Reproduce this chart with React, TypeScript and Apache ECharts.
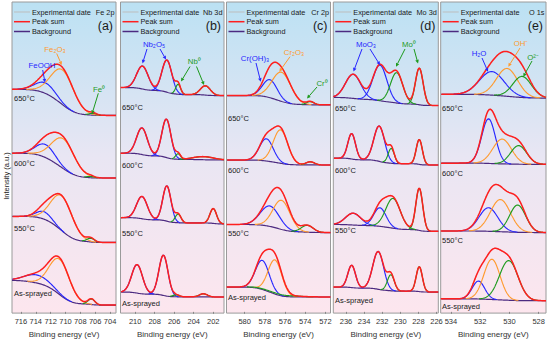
import React, { useEffect, useRef } from "react";
import * as echarts from "echarts";

// ---------- data ----------
const samples = ["650°C", "600°C", "550°C", "As-sprayed"];

// Peak fits: [species, centre (eV), height (a.u.), FWHM (eV)]
// Background levels: [high-BE level, low-BE level]
const feTicks = [716, 714, 712, 710, 708, 706, 704];
const feRange = [703.2, 717.2];
const feBg = [[3.59, 3.17], [2.56, 2.16], [1.54, 1.12], [0.51, 0.11]];
const fePeaks = [
  [["FeOOH", 712.7, 0.17, 3.2], ["Fe2O3", 710.4, 0.56, 3.6], ["Fe0", 706.3, 0.03, 1.2]],
  [["FeOOH", 712.7, 0.21, 3.0], ["Fe2O3", 710.3, 0.48, 3.6], ["Fe0", 706.6, 0.02, 1.2]],
  [["FeOOH", 712.9, 0.12, 2.4], ["Fe2O3", 710.5, 0.56, 3.4], ["Fe0", 706.6, 0.06, 1.2]],
  [["FeOOH", 713.8, 0.13, 4.0], ["Fe2O3", 710.8, 0.57, 3.2], ["Fe0", 706.5, 0.09, 1.1]],
];

const nbTicks = [210, 208, 206, 204, 202];
const nbRange = [200.9, 211.5];
const nbBg = [[3.62, 3.49], [2.56, 2.45], [1.52, 1.42], [0.32, 0.24]];
const nbPeaks = [
  [["Nb2O5", 209.25, 0.37, 1.4], ["Nb2O5", 206.75, 0.52, 1.2], ["Nb0", 205.6, 0.16, 0.6], ["Nb0", 202.8, 0.15, 1.2]],
  [["Nb2O5", 209.3, 0.43, 1.3], ["Nb2O5", 206.8, 0.62, 1.1], ["Nb0", 205.6, 0.09, 0.6], ["Nb0", 203.0, 0.05, 2.5]],
  [["Nb2O5", 209.3, 0.36, 1.3], ["Nb2O5", 206.75, 0.57, 1.0], ["Nb0", 205.6, 0.14, 0.7], ["Nb0", 202.0, 0.24, 0.8]],
  [["Nb2O5", 209.8, 0.46, 1.3], ["Nb2O5", 207.1, 0.65, 1.1], ["Nb0", 205.8, 0.03, 0.8], ["Nb0", 203.0, 0.05, 1.0]],
];

const crTicks = [580, 578, 576, 574, 572];
const crRange = [571.5, 581.8];
const crBg = [[3.49, 3.34], [2.45, 2.37], [1.41, 1.28], [0.40, 0.24]];
const crPeaks = [
  [["Cr(OH)3", 577.5, 0.29, 1.7], ["Cr2O3", 576.35, 0.47, 2.2], ["Cr0", 573.5, 0.05, 0.9]],
  [["Cr(OH)3", 577.85, 0.36, 1.6], ["Cr2O3", 576.45, 0.54, 1.7], ["Cr0", 573.5, 0.05, 1.0]],
  [["Cr(OH)3", 577.5, 0.33, 2.2], ["Cr2O3", 576.35, 0.47, 2.0], ["Cr0", 573.8, 0.11, 1.4]],
  [["Cr(OH)3", 578.25, 0.47, 1.6], ["Cr2O3", 577.0, 0.55, 1.6], ["Cr0", 576.5, 0.02, 4.0]],
];

const moTicks = [236, 234, 232, 230, 228, 226];
const moRange = [225.8, 237.4];
const moBg = [[3.46, 3.33], [2.48, 2.37], [1.41, 1.30], [0.40, 0.32]];
const moPeaks = [
  [["MoO3", 235.2, 0.39, 2.0], ["MoO3", 232.25, 0.575, 1.8], ["Mo0", 230.4, 0.49, 1.6], ["Mo0", 227.9, 0.59, 1.0]],
  [["MoO3", 235.37, 0.41, 1.0], ["MoO3", 232.33, 0.57, 1.4], ["Mo0", 231.0, 0.24, 0.8], ["Mo0", 227.9, 0.40, 0.8]],
  [["MoO3", 235.2, 0.19, 2.0], ["MoO3", 232.25, 0.30, 1.6], ["Mo0", 230.8, 0.48, 1.9], ["Mo0", 227.9, 0.68, 0.9]],
  [["MoO3", 235.37, 0.36, 1.0], ["MoO3", 232.44, 0.61, 1.4], ["Mo0", 231.04, 0.26, 0.9], ["Mo0", 227.9, 0.40, 0.8]],
];

const oTicks = [534, 532, 530, 528];
const oRange = [527.5, 534.7];
const oBg = [[3.51, 3.45], [2.40, 2.38], [1.305, 1.28], [0.21, 0.18]];
const oPeaks = [
  [["H2O", 531.2, 0.38, 2.0], ["OH-", 530.16, 0.45, 1.7], ["O2-", 529.13, 0.34, 1.5]],
  [["H2O", 531.43, 0.72, 1.1], ["OH-", 530.5, 0.40, 1.5], ["O2-", 529.37, 0.30, 1.3]],
  [["H2O", 531.43, 0.38, 1.5], ["OH-", 530.62, 0.52, 1.6], ["O2-", 529.44, 0.44, 1.3]],
  [["H2O", 532.12, 0.29, 1.0], ["OH-", 531.2, 0.65, 1.3], ["O2-", 530.05, 0.64, 1.5]],
];

// ---------- styles ----------
const FONT = '"Liberation Sans", Arial, Helvetica, sans-serif';
const RED = "#ff1f1f";
const BLUE = "#2626ff";
const ORANGE = "#ff9a2e";
const GREEN = "#1d9a1d";
const PURPLE = "#4c2a80";
const GREY = "#bdbdbd";
const speciesColor: Record<string, string> = {
  FeOOH: BLUE, Fe2O3: ORANGE, Fe0: GREEN,
  Nb2O5: BLUE, Nb0: GREEN,
  "Cr(OH)3": BLUE, Cr2O3: ORANGE, Cr0: GREEN,
  MoO3: BLUE, Mo0: GREEN,
  H2O: BLUE, "OH-": ORANGE, "O2-": GREEN,
};

const panels = [
  { ticks: feTicks, range: feRange, bg: feBg, peaks: fePeaks, element: "Fe 2p", tag: "(a)" },
  { ticks: nbTicks, range: nbRange, bg: nbBg, peaks: nbPeaks, element: "Nb 3d", tag: "(b)" },
  { ticks: crTicks, range: crRange, bg: crBg, peaks: crPeaks, element: "Cr 2p", tag: "(c)" },
  { ticks: moTicks, range: moRange, bg: moBg, peaks: moPeaks, element: "Mo 3d", tag: "(d)" },
  { ticks: oTicks, range: oRange, bg: oBg, peaks: oPeaks, element: "O 1s", tag: "(e)" },
];

// layout (pixels)
const frames = [
  { l: 12, r: 116 },
  { l: 120.5, r: 224 },
  { l: 226.5, r: 330.5 },
  { l: 333.3, r: 438.3 },
  { l: 440.7, r: 546 },
];
const TOP = 2;
const BOTTOM = 316;

const sampleLabelPos = [
  [[14, 98], [14, 163], [14, 228], [14, 293]],
  [[122, 107], [122, 165], [122, 233], [122, 303]],
  [[228, 118], [228, 170], [228, 233], [228, 297]],
  [[335, 108], [335, 170], [335, 230], [335, 300]],
  [[442, 108], [442, 173], [442, 240], [442, 306]],
];

const annotations = [
  { text: "FeOOH", color: BLUE, x: 42, y: 65.5, arrows: [[42.7, 70, 45, 82.5]] },
  { text: "Fe₂O₃", color: ORANGE, x: 55, y: 49, arrows: [[56.7, 53.5, 61.7, 65]] },
  { text: "Fe⁰", color: GREEN, x: 99, y: 89, arrows: [[98.3, 93.3, 92, 114]] },
  { text: "Nb₂O₅", color: BLUE, x: 154, y: 44, arrows: [[147, 49, 142.5, 63.5], [160, 49, 166, 59.5]] },
  { text: "Nb⁰", color: GREEN, x: 194.3, y: 61.7, arrows: [[190, 66.5, 181, 81.5], [196.5, 66.5, 204, 85]] },
  { text: "Cr(OH)₃", color: BLUE, x: 255, y: 58, arrows: [[256, 63, 260.7, 81.7]] },
  { text: "Cr₂O₃", color: ORANGE, x: 294, y: 52, arrows: [[290, 56.7, 279.3, 71.7]] },
  { text: "Cr⁰", color: GREEN, x: 322, y: 83, arrows: [[317, 87, 307, 98.5]] },
  { text: "MoO₃", color: BLUE, x: 366, y: 44, arrows: [[362, 49, 353.5, 71.5], [370, 49, 380, 65]] },
  { text: "Mo⁰", color: GREEN, x: 409, y: 44, arrows: [[405, 49, 396, 66.7], [414, 49, 418, 63.5]] },
  { text: "H₂O", color: BLUE, x: 479, y: 53, arrows: [[482, 58, 488, 71.7]] },
  { text: "OH⁻", color: ORANGE, x: 521, y: 43, arrows: [[520, 48, 508.3, 66.7]] },
  { text: "O²⁻", color: GREEN, x: 533, y: 57, arrows: [[532, 61, 523.3, 76.7]] },
];

// ---------- helpers ----------
function erf(v: number) {
  const s = Math.sign(v);
  const x = Math.abs(v);
  const t = 1 / (1 + 0.3275911 * x);
  const y = 1 - ((((1.061405429 * t - 1.453152027) * t + 1.421413741) * t - 0.284496736) * t + 0.254829592) * t * Math.exp(-x * x);
  return s * y;
}
const Phi = (z: number) => 0.5 * (1 + erf(z / Math.SQRT2));

function arrow(x1: number, y1: number, x2: number, y2: number, color: string) {
  const a = Math.atan2(y2 - y1, x2 - x1);
  const L = 3.6, W = 1.8;
  const bx = x2 - L * Math.cos(a), by = y2 - L * Math.sin(a);
  return [
    { type: "line", z: 100, silent: true, shape: { x1, y1, x2: bx, y2: by }, style: { stroke: color, lineWidth: 1 } },
    {
      type: "polygon", z: 100, silent: true,
      shape: { points: [[x2, y2], [bx + W * Math.sin(a), by - W * Math.cos(a)], [bx - W * Math.sin(a), by + W * Math.cos(a)]] },
      style: { fill: color },
    },
  ];
}

function txt(text: string, x: number, y: number, opts: any = {}) {
  return {
    type: "text", z: 100, silent: true, x, y, rotation: opts.rotation || 0,
    style: {
      text, fill: opts.color || "#1a1a1a", fontSize: opts.size || 7.5, fontFamily: FONT,
      align: opts.align || "left", verticalAlign: "middle",
    },
  };
}

function buildOption() {
  const grids: any[] = [];
  const xAxes: any[] = [];
  const yAxes: any[] = [];
  const series: any[] = [];
  const graphics: any[] = [];

  panels.forEach((p, pi) => {
    const f = frames[pi];
    grids.push({
      left: f.l, top: TOP, width: f.r - f.l, height: BOTTOM - TOP, show: true,
      backgroundColor: new echarts.graphic.LinearGradient(0, 0, 0, 1, [
        { offset: 0, color: "#bbe1f3" },
        { offset: 0.5, color: "#e9e6f3" },
        { offset: 1, color: "#fde6ee" },
      ]),
      borderColor: "#9a9a9a", borderWidth: 1,
    });
    xAxes.push({
      type: "value", gridIndex: pi, inverse: true, min: p.range[0], max: p.range[1],
      splitLine: { show: false }, axisLine: { show: false },
      axisTick: { show: true, length: 2, customValues: p.ticks, lineStyle: { color: "#888" } },
      axisLabel: { customValues: p.ticks, fontSize: 7.5, color: "#333", margin: 4, fontFamily: FONT },
      name: "Binding energy (eV)", nameLocation: "middle", nameGap: 14,
      nameTextStyle: { fontSize: 8, color: "#333", fontFamily: FONT },
    });
    yAxes.push({ type: "value", gridIndex: pi, min: -0.02, max: 5, show: false });

    const n = 320;
    const step = (p.range[1] - p.range[0]) / n;
    p.peaks.forEach((pk: any[], si: number) => {
      const [hi, lo] = p.bg[si];
      const comps = pk.map((q: any) => ({ sp: q[0], c: q[1], h: q[2], s: q[3] / 2.3548 }));
      const wsum = comps.reduce((a, q) => a + q.h * q.s, 0);
      const bgD: number[][] = [];
      const sumD: number[][] = [];
      const compD: any[][] = comps.map(() => []);
      for (let i = 0; i <= n; i++) {
        const x = p.range[0] + i * step;
        let frac = 0;
        comps.forEach((q) => { frac += q.h * q.s * Phi((x - q.c) / q.s); });
        const b = lo + (hi - lo) * frac / wsum;
        let tot = 0;
        comps.forEach((q, k) => {
          const g = q.h * Math.exp(-((x - q.c) ** 2) / (2 * q.s * q.s));
          tot += g;
          compD[k].push([x, g > 0.003 ? b + g : null]);
        });
        bgD.push([x, b]);
        sumD.push([x, b + tot]);
      }
      const common = { type: "line", xAxisIndex: pi, yAxisIndex: pi, showSymbol: false, symbol: "none", silent: true, animation: false };
      series.push({ ...common, name: "Background", z: 2, data: bgD, lineStyle: { color: PURPLE, width: 1.2 } });
      comps.forEach((q, k) => {
        series.push({ ...common, name: q.sp, z: 3, data: compD[k], connectNulls: false, lineStyle: { color: speciesColor[q.sp], width: 1.15 } });
      });
      series.push({ ...common, name: "Experimental date", z: 1, data: sumD, lineStyle: { color: GREY, width: 0.8 } });
      series.push({ ...common, name: "Peak sum", z: 4, data: sumD, lineStyle: { color: RED, width: 1.5 } });

      const [lx, ly] = sampleLabelPos[pi][si];
      graphics.push(txt(samples[si], lx, ly, { size: 7.5 }));
    });

    // legend
    const ly = [12, 21.7, 31.5];
    const lc = [GREY, RED, PURPLE];
    const lw = [1, 1.5, 1.5];
    const lt = ["Experimental date", "Peak sum", "Background"];
    ly.forEach((y, k) => {
      graphics.push({ type: "line", z: 100, silent: true, shape: { x1: f.l + 2, y1: y, x2: f.l + 18, y2: y }, style: { stroke: lc[k], lineWidth: lw[k] } });
      graphics.push(txt(lt[k], f.l + 20, y, { size: 7.3 }));
    });
    graphics.push(txt(p.element, f.r - 1.5, 12, { size: 7.3, align: "right" }));
    graphics.push(txt(p.tag, f.r - 3, 25.5, { size: 12.5, align: "right" }));
  });

  annotations.forEach((a) => {
    graphics.push(txt(a.text, a.x, a.y, { color: a.color, size: 7.8, align: "center" }));
    a.arrows.forEach((ar) => graphics.push(...arrow(ar[0], ar[1], ar[2], ar[3], a.color)));
  });

  graphics.push(txt("Intensity (a.u.)", 6, 176, { size: 7.5, align: "center", rotation: Math.PI / 2 }));

  return {
    animation: false,
    backgroundColor: "#ffffff",
    grid: grids,
    xAxis: xAxes,
    yAxis: yAxes,
    series,
    graphic: { elements: graphics },
  };
}

export default function App() {
  const ref = useRef<HTMLDivElement>(null);
  useEffect(() => {
    if (!ref.current) return;
    const chart = echarts.init(ref.current, undefined, { renderer: "svg" });
    chart.setOption(buildOption() as any);
    return () => chart.dispose();
  }, []);
  return <div ref={ref} style={{ position: "fixed", left: 0, top: 0, width: 550, height: 343 }} />;
}
